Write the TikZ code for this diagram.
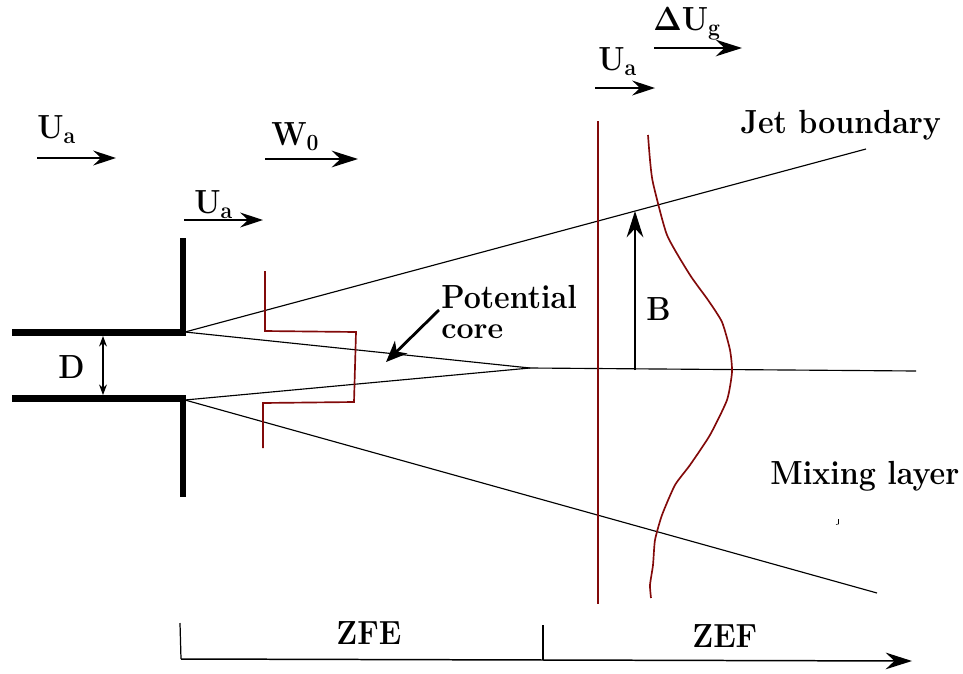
\documentclass[tikz,border=0pt]{standalone}
\usepackage{amsmath}
\usetikzlibrary{arrows.meta}
\definecolor{profilered}{RGB}{130,10,10}
\newcommand{\tall}[1]{\scalebox{1}[1.1]{\bfseries #1}}
\tikzset{
    lab/.style={inner sep=0pt, anchor=base west, font=\fontsize{17.3}{19}\selectfont\bfseries},
    wall/.style={line width=3.7pt, line cap=butt},
    thin line/.style={line width=0.65pt},
    profile/.style={draw=profilered, line width=0.95pt},
    flow/.style={line width=0.75pt, -{Stealth[length=13pt, width=8.5pt, inset=4.5pt]}},
    bigflow/.style={line width=0.85pt, -{Stealth[length=15pt, width=9.5pt, inset=5pt]}},
    dimarrow/.style={line width=0.6pt, {Stealth[length=6pt, width=4.5pt]}-{Stealth[length=6pt, width=4.5pt]}},
    corearrow/.style={line width=1.6pt, -{Stealth[length=12pt, width=10pt, inset=3.5pt]}}
}
\begin{document}
\begin{tikzpicture}[x=0.02cm, y=-0.02cm]
    \useasboundingbox (0,0) rectangle (963,673);

    % Nozzle walls
    \coordinate (upperin) at (12,332.5);
    \coordinate (upperlip) at (186,332.5);
    \coordinate (lowerin) at (12,398.5);
    \coordinate (lowerlip) at (186,398.5);
    \coordinate (uppertop) at (183,238);
    \coordinate (upperfoot) at (183,332);
    \coordinate (lowerfoot) at (183,398);
    \coordinate (lowerend) at (183,497);
    \draw[wall] (upperin) -- (upperlip);
    \draw[wall] (lowerin) -- (lowerlip);
    \draw[wall] (uppertop) -- (upperfoot);
    \draw[wall] (lowerfoot) -- (lowerend);

    % Jet lines
    \coordinate (jettip) at (530,368);
    \coordinate (jetup) at (866,149);
    \coordinate (jetdown) at (877,593);
    \coordinate (axisend) at (916,371);
    \coordinate (lipup) at (185,332);
    \coordinate (lipdown) at (185,400);
    \draw[thin line] (lipup) -- (jetup);
    \draw[thin line] (lipup) -- (jettip);
    \draw[thin line] (lipdown) -- (jettip);
    \draw[thin line] (lipdown) -- (jetdown);
    \draw[thin line] (jettip) -- (axisend);

    % Velocity profiles
    \draw[profile] (265,271) -- (265,331) -- (356,332) -- (354,402) -- (263,403) -- (263,448);
    \coordinate (walltop) at (598,121);
    \coordinate (wallbottom) at (598,604);
    \draw[profile] (walltop) -- (wallbottom);
    \draw[profile] plot[smooth, tension=0.35] coordinates {(648,135) (650,160) (653,183) (667,235) (690,275) (708,300) (722,322) (730,350) (732,372) (727,400) (710,435) (690,465) (675,485) (662,515) (655,540) (653,565) (650,585) (651,598)};

    % Flow arrows
    \foreach \name/\xa/\xb/\y in {inflow/37/116/158, outflow/184/263/220, farflow/595/655/88}
    {
        \coordinate (\name a) at (\xa,\y);
        \coordinate (\name b) at (\xb,\y);
        \draw[flow] (\name a) -- (\name b);
    }
    \coordinate (jetflowa) at (265,159);
    \coordinate (jetflowb) at (358,159);
    \draw[bigflow] (jetflowa) -- (jetflowb);
    \coordinate (excessa) at (654,48);
    \coordinate (excessb) at (742,48);
    \draw[bigflow] (excessa) -- (excessb);

    % Dimensions
    \coordinate (dtop) at (103,336);
    \coordinate (dbottom) at (103,395);
    \draw[dimarrow] (dtop) -- (dbottom);
    \coordinate (bfoot) at (635,370);
    \coordinate (btip) at (635,211);
    \draw[bigflow] (bfoot) -- (btip);
    \coordinate (corefrom) at (439,310);
    \coordinate (coreto) at (386,362);
    \draw[corearrow] (corefrom) -- (coreto);

    % Bottom scale
    \coordinate (scalea) at (180,623);
    \coordinate (scaleb) at (181,659);
    \coordinate (scalec) at (912,661);
    \coordinate (ticktop) at (543,625);
    \coordinate (tickfoot) at (543,660);
    \draw[line width=0.7pt] (scalea) -- (scaleb);
    \draw[bigflow] (scaleb) -- (scalec);
    \draw[line width=0.7pt] (ticktop) -- (tickfoot);

    % Stray mark
    \coordinate (marka) at (838.5,519);
    \coordinate (markb) at (838.5,524);
    \coordinate (markc) at (836,524.5);
    \draw[line width=0.3pt] (marka) -- (markb) -- (markc);

    % Labels
    \node[lab] (uain) at (37,138) {\tall{U\textsubscript{a}}};
    \node[lab] (uaout) at (194,213) {\tall{U\textsubscript{a}}};
    \node[lab] (uafar) at (598,70) {\tall{U\textsubscript{a}}};
    \node[lab] (wzero) at (271,145) {\tall{W$_{\mathbf{0}}$}};
    \node[lab] (excess) at (653,30) {\tall{$\mathbf{\Delta}$U$_{\mathbf{g}}$}};
    \node[lab] (jetlabel) at (740,133) {\tall{Jet boundary}};
    \node[lab] (potential) at (441,308) {\tall{Potential}};
    \node[lab] (core) at (441,338) {core};
    \node[lab] (blabel) at (646,320) {\tall{B}};
    \node[lab] (dlabel) at (58,378) {\tall{D}};
    \node[lab] (mixing) at (770,484) {\tall{Mixing layer}};
    \node[lab] (zfe) at (336,644) {\tall{ZFE}};
    \node[lab] (zef) at (692,647) {\tall{ZEF}};
\end{tikzpicture}
\end{document}
